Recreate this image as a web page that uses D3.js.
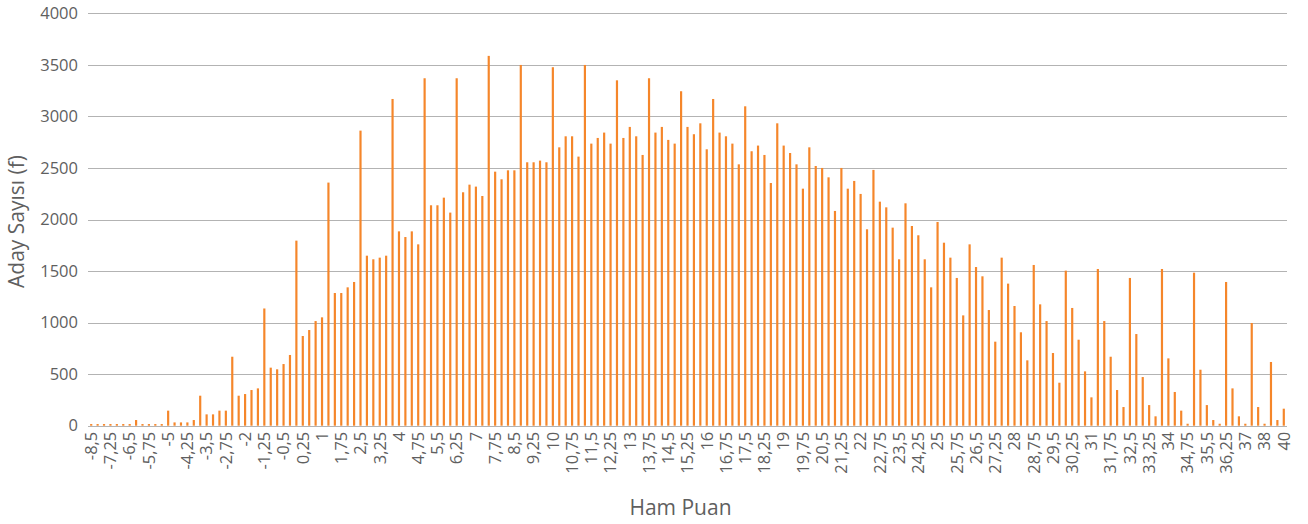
<!DOCTYPE html>
<html>
<head>
<meta charset="utf-8">
<script src="https://cdn.jsdelivr.net/npm/d3@7"></script>
<style>
  html, body { margin: 0; padding: 0; background: #fff; }
  svg { display: block; }
  text { font-family: "Open Sans", "Noto Sans", sans-serif; fill: #5f5f5f; }
</style>
</head>
<body>
<svg id="chart" width="1308" height="524"></svg>
<script>
// Categories (raw score, "Ham Puan")
const categories = [-8.5, -8, -7.75].concat(
  d3.range(3, 181).map(i => -8 + 0.25 * i),
  [37.25, 37.5, 38, 38.5, 39, 40]
);
// Candidate counts ("Aday Sayısı")
const counts = [
  16, 16, 16, 16, 16, 16, 16, 55, 16, 16,
  16, 16, 146, 32, 32, 32, 55, 291, 110, 110,
  146, 146, 669, 291, 307, 346, 362, 1137, 563, 547,
  598, 686, 1795, 870, 928, 1015, 1051, 2358, 1287, 1287,
  1342, 1394, 2862, 1649, 1614, 1630, 1649, 3169, 1885, 1830,
  1885, 1759, 3370, 2138, 2138, 2212, 2067, 3370, 2264, 2338,
  2319, 2228, 3587, 2464, 2390, 2477, 2477, 3499, 2555, 2555,
  2571, 2555, 3477, 2700, 2807, 2807, 2610, 3499, 2736, 2791,
  2843, 2736, 3350, 2791, 2898, 2807, 2626, 3370, 2843, 2898,
  2772, 2736, 3244, 2898, 2827, 2933, 2681, 3169, 2843, 2807,
  2736, 2535, 3098, 2662, 2717, 2626, 2354, 2933, 2717, 2645,
  2535, 2299, 2700, 2519, 2500, 2409, 2083, 2500, 2299, 2374,
  2248, 1905, 2481, 2173, 2118, 1921, 1614, 2157, 1937, 1847,
  1614, 1342, 1976, 1775, 1630, 1433, 1070, 1759, 1539, 1449,
  1122, 815, 1630, 1378, 1161, 906, 634, 1559, 1177, 1015,
  705, 417, 1504, 1142, 834, 527, 275, 1520, 1015, 669,
  346, 181, 1433, 889, 472, 200, 91, 1520, 653, 327,
  146, 19, 1484, 543, 200, 55, 19, 1394, 362, 91,
  19, 996, 181, 19, 618, 55, 165
];
const yTicks = [0, 500, 1000, 1500, 2000, 2500, 3000, 3500, 4000];
const xTitle = "Ham Puan";
const yTitle = "Aday Sayısı (f)";

const fmt = v => String(v).replace(".", ",");
const keys = categories.map((c, i) => i);

const svg = d3.select("#chart");
const mLeft = 88, mRight = 1287, mTop = 13.3, mBottom = 425.7;

const x = d3.scaleBand().domain(keys).range([mLeft, mRight]).paddingInner(0.66).paddingOuter(0.33);
const y = d3.scaleLinear().domain([0, 4000]).range([mBottom, mTop]);

// gridlines
svg.append("g").selectAll("line").data(yTicks).join("line")
  .attr("x1", mLeft).attr("x2", mRight)
  .attr("y1", d => Math.round(y(d)) + 0.5).attr("y2", d => Math.round(y(d)) + 0.5)
  .attr("stroke", "#b3b3b3").attr("stroke-width", 1);

// bars
svg.append("g").selectAll("rect").data(counts).join("rect")
  .attr("x", (d, i) => x(i))
  .attr("width", x.bandwidth())
  .attr("y", d => y(d))
  .attr("height", d => mBottom - y(d))
  .attr("fill", "#f5862a");

// y axis labels
const yAxis = d3.axisLeft(y).tickValues(yTicks).tickSize(0).tickPadding(10).tickFormat(d => d);
const gy = svg.append("g").attr("transform", `translate(${mLeft},0)`).call(yAxis);
gy.select(".domain").remove();
gy.selectAll("text").style("font-size", "16.5px").attr("fill", "#5f5f5f")
  .style("font-family", "'Open Sans', sans-serif");

// x axis labels (every third category)
const xAxis = d3.axisBottom(x).tickValues(keys.filter(i => i % 3 === 0)).tickSize(0).tickFormat(i => fmt(categories[i]));
const gx = svg.append("g").attr("transform", `translate(0,${mBottom})`).call(xAxis);
gx.select(".domain").remove();
gx.selectAll("text")
  .style("font-size", "16.5px").attr("fill", "#5f5f5f")
  .style("font-family", "'Open Sans', sans-serif")
  .attr("transform", "rotate(-90)")
  .attr("text-anchor", "end")
  .attr("dy", "0.35em").attr("x", -6).attr("y", 0);

// titles
svg.append("text").attr("x", (mLeft + mRight) / 2 - 7).attr("y", 515)
  .attr("text-anchor", "middle").style("font-size", "21px").text(xTitle);
svg.append("text").attr("transform", `translate(24,${(mTop + mBottom) / 2 + 2}) rotate(-90)`)
  .attr("text-anchor", "middle").style("font-size", "21px").text(yTitle);
</script>
</body>
</html>
